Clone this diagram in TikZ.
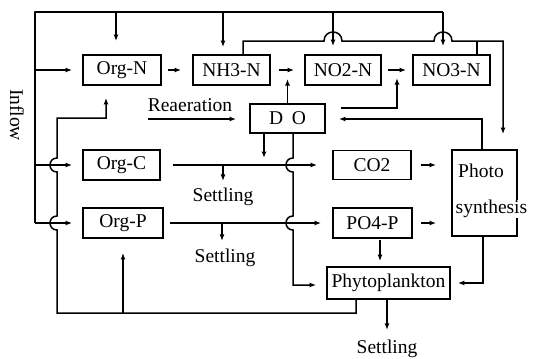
\documentclass[tikz,border=0pt]{standalone}
\usepackage{fontspec}
\setmainfont{Liberation Serif}
\usetikzlibrary{arrows.meta}
\begin{document}
\begin{tikzpicture}[x=1pt,y=-1pt,
  box/.style={draw, line width=1.8pt, inner sep=0pt, font=\fontsize{19.5}{22}\selectfont},
  lbl/.style={inner sep=0pt, font=\fontsize{19.5}{22}\selectfont},
  ln/.style={line width=1.5pt},
  thk/.style={line width=2.8pt},
  tip/.style={-{Latex[length=6.5pt,width=5pt]}},
  arr/.style={ln, tip},
  arrm/.style={line width=2pt, tip},
  arrt/.style={line width=2.6pt, tip},
]
\useasboundingbox (0,0) rectangle (539,359);

% boxes
\node[box, minimum width=78pt, minimum height=30pt] (orgn) at (122,70) {Org-N};
\node[box, minimum width=77pt, minimum height=30pt] (nh3n) at (231.5,70) {NH3-N};
\node[box, minimum width=76pt, minimum height=30pt] (no2n) at (343,70) {NO2-N};
\node[box, minimum width=77pt, minimum height=30pt] (no3n) at (451.5,70) {NO3-N};
\node[box, minimum width=75pt, minimum height=29pt] (do) at (287.5,118.5) {D\hspace{0.45em}O};
\node[box, minimum width=77pt, minimum height=30pt] (orgc) at (121.5,165) {Org-C};
\node[box, minimum width=78pt, minimum height=29pt] (co2) at (372,165) {CO2};
\node[box, minimum width=80pt, minimum height=30pt] (orgp) at (123,223) {Org-P};
\node[box, minimum width=79pt, minimum height=30pt] (po4p) at (372.5,223) {PO4-P};
\node[box, minimum width=123pt, minimum height=32pt] (phyto) at (388.5,283) {Phytoplankton};
\node[box, minimum width=65pt, minimum height=86pt] (photo) at (484.5,193) {};
\node[lbl] (ph1) at (481,171) {Photo};
\node[lbl, fill=white] (ph2) at (491.5,209) {synthesis};

% labels
\node[lbl, rotate=-90] (inflow) at (17,115) {Inflow};
\node[lbl] (rea) at (190,105) {Reaeration};
\node[lbl] (set1) at (223,197) {Settling};
\node[lbl] (set2) at (225,258) {Settling};
\node[lbl] (set3) at (387,349) {Settling};

% outer frame
\coordinate (tl) at (35,12);
\coordinate (tr) at (443,12);
\coordinate (lb) at (35,223);
\draw[thk, line join=round] (lb) -- (tl) -- (tr);
\coordinate (t1) at (116,12);
\coordinate (t2) at (223,12);
\coordinate (t3) at (333,12);
\draw[arrm, shorten >=13pt] (t1) -- (t1 |- orgn.north);
\draw[arrm, shorten >=7pt] (t2) -- (t2 |- nh3n.north);
\draw[arrm, shorten >=8pt] (t3) -- (t3 |- no2n.north);
\draw[arrm, shorten >=8pt] (tr) -- (tr |- no3n.north);
\draw[arrm, shorten >=10pt] (tl |- orgn.west) -- (orgn.west);
\draw[arrm, shorten >=10pt] (tl |- orgc.west) -- (orgc.west);
\draw[arrm, shorten >=10pt] (lb) -- (orgp.west);

% nitrogen line to photosynthesis
\coordinate (n1) at (243,41);
\coordinate (n3) at (477,41);
\coordinate (nr) at (503,41);
\draw[arr, shorten >=15pt] (n1 |- nh3n.north) -- (n1) -- (324,41)
  .. controls (324,29) and (342,29) .. (342,41) -- (434,41)
  .. controls (434,29) and (452,29) .. (452,41) -- (nr) -- (nr |- photo.north);
\draw[ln] (n3 |- no3n.north) -- (n3);

% inner recycling loop
\coordinate (pb) at (356,313);
\coordinate (lbm) at (57,313);
\coordinate (lt) at (57,118);
\coordinate (ot) at (106,118);
\coordinate (pu) at (123,313);
\draw[arr, shorten >=12pt] (pb |- phyto.south) -- (pb) -- (lbm) -- (57,230)
  .. controls (47.7,230) and (47.7,216) .. (57,216) -- (57,172)
  .. controls (47.7,172) and (47.7,158) .. (57,158) -- (lt) -- (ot) -- (ot |- orgn.south);
\draw[arr, shorten >=14pt] (pu) -- (pu |- orgp.south);

% nitrogen chain
\draw[arr, shorten <=6pt, shorten >=11pt] (orgn) -- (nh3n);
\draw[arr, shorten <=8pt, shorten >=10pt] (nh3n) -- (no2n);
\draw[arr, shorten <=6pt, shorten >=6pt] (no2n) -- (no3n);

% DO connections
\draw[arr, shorten >=9pt] (do.north) -- (do.north |- nh3n.east);
\coordinate (d2) at (397,108);
\draw[arr, shorten <=15pt, shorten >=8pt] (do.east |- d2) -- (d2) -- (d2 |- no3n.west);
\coordinate (p1) at (482,119);
\draw[arr, shorten >=13pt] (p1 |- photo.north) -- (p1) -- (do.east |- p1);
\coordinate (r1) at (148,119);
\draw[arrm, shorten >=13pt] (r1) -- (do.west |- r1);
\coordinate (d3) at (264,0);
\draw[arr, shorten >=7pt] (d3 |- do.south) -- (d3 |- orgc.east);
\coordinate (dv) at (293,285);
\draw[arr, shorten >=10pt] (do.south -| dv) -- (293,158)
  .. controls (283.7,158) and (283.7,172) .. (293,172) -- (293,216)
  .. controls (283.7,216) and (283.7,230) .. (293,230) -- (dv) -- (phyto.west |- dv);

% carbon and phosphorus
\draw[arr, shorten <=12pt, shorten >=15pt] (orgc.east) -- (co2.west);
\coordinate (s1) at (223,165);
\draw[arr, shorten >=7pt] (s1) -- (s1 |- set1.north);
\draw[arr, shorten <=6pt, shorten >=11pt] (orgp.east) -- (po4p.west);
\coordinate (s2) at (222,223);
\draw[arr, shorten >=8pt] (s2) -- (s2 |- set2.north);
\draw[arr, shorten <=9pt, shorten >=15pt] (co2.east) -- (photo.west |- co2.east);
\draw[arr, shorten <=8pt, shorten >=15pt] (po4p.east) -- (photo.west |- po4p.east);
\coordinate (q1) at (380,240);
\draw[arr, shorten >=5pt] (q1) -- (q1 |- phyto.north);
\coordinate (p2) at (483,283);
\draw[arr, shorten >=7pt] (p2 |- photo.south) -- (p2) -- (phyto.east |- p2);
\coordinate (q2) at (387,0);
\draw[arrt, shorten >=10pt] (q2 |- phyto.south) -- (q2 |- set3.north);
\end{tikzpicture}
\end{document}
